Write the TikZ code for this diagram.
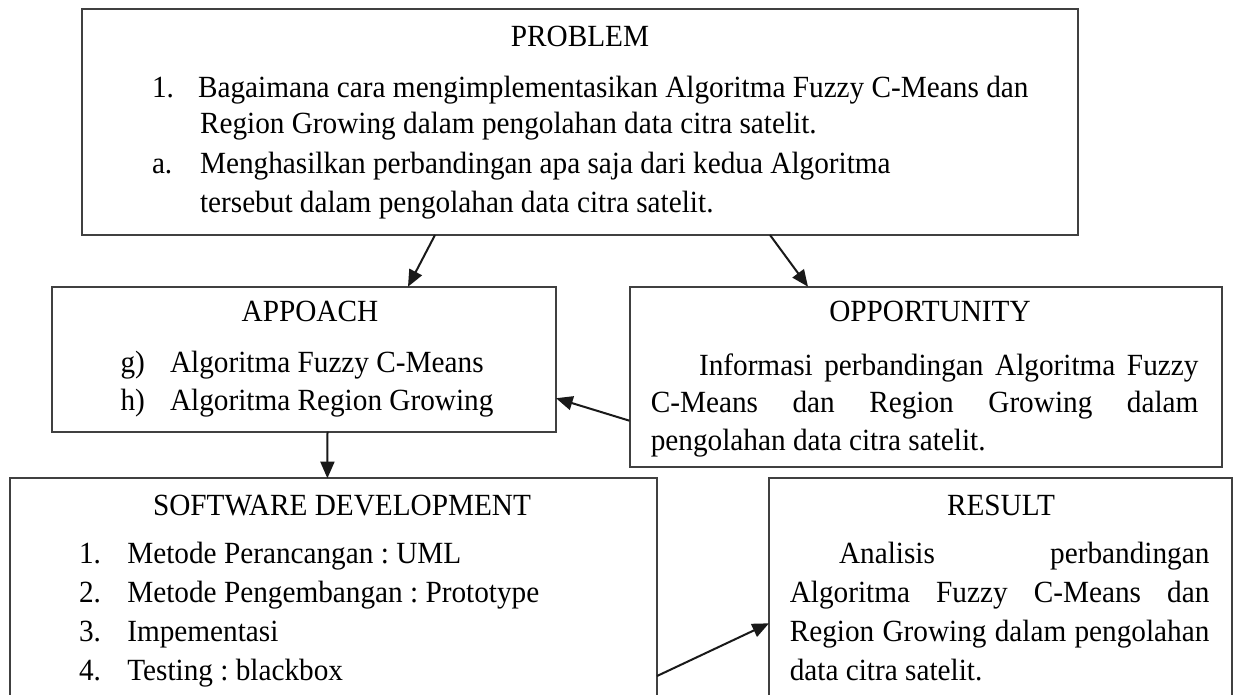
\documentclass[tikz,border=0pt]{standalone}
\usepackage{fontspec}
\setmainfont{Liberation Serif}[FakeStretch=0.95]
\usetikzlibrary{fit,calc,arrows.meta}
\frenchspacing
\begin{document}
\begin{tikzpicture}[x=0.75pt,y=-0.75pt,
  box/.style={draw=black!75, line width=1.5pt, inner sep=0pt, outer sep=0pt},
  txt/.style={anchor=base west, inner sep=0pt, outer sep=0pt, font=\fontsize{23.1}{27}\selectfont},
  ttl/.style={anchor=base, inner sep=0pt, outer sep=0pt, font=\fontsize{23.1}{27}\selectfont},
  arr/.style={line width=1.5pt, draw=black!90, -{Triangle[length=12.5pt,width=10.5pt]}}]
\useasboundingbox (0,0) rectangle (1239,694);
\clip (0,0) rectangle (1239,694);
\fill[white] (0,0) rectangle (1239,694);

% boxes
\node[box, fit={(82,9) (1078,235)}] (problem) {};
\node[box, fit={(51.5,286.7) (556,431.7)}] (approach) {};
\node[box, fit={(629.5,286.7) (1222,467)}] (opportunity) {};
\node[box, fit={(10,478.3) (657,720)}] (softdev) {};
\node[box, fit={(769,478.3) (1232,720)}] (result) {};

% PROBLEM
\node[ttl] (pT) at (580,46.7) {PROBLEM};
\node[txt] (p1n) at (152,97) {1.};
\node[txt] (p1a) at (198,97) {Bagaimana cara mengimplementasikan Algoritma Fuzzy C-Means dan};
\node[txt] (p1b) at (200,133) {Region Growing dalam pengolahan data citra satelit.};
\node[txt] (p2n) at (152,173) {a.};
\node[txt] (p2a) at (200,173) {Menghasilkan perbandingan apa saja dari kedua Algoritma};
\node[txt] (p2b) at (200,212) {tersebut dalam pengolahan data citra satelit.};

% APPOACH
\node[ttl] (aT) at (310,321.7) {APPOACH};
\node[txt] (a1n) at (120.6,372.7) {g)};
\node[txt] (a1) at (170,372.7) {Algoritma Fuzzy C-Means};
\node[txt] (a2n) at (120.6,410) {h)};
\node[txt] (a2) at (170,410) {Algoritma Region Growing};

% OPPORTUNITY
\node[ttl] (oT) at (930,321.7) {OPPORTUNITY};
\node[txt] (o1) at (699,375) {\makebox[374.6pt][s]{Informasi perbandingan Algoritma Fuzzy}};
\node[txt] (o2) at (650.8,412.3) {\makebox[410.7pt][s]{C-Means dan Region Growing dalam}};
\node[txt] (o3) at (650.8,450) {pengolahan data citra satelit.};

% SOFTWARE DEVELOPMENT
\node[ttl] (sT) at (342,515) {SOFTWARE DEVELOPMENT};
\node[txt] (s1n) at (79,563.3) {1.};
\node[txt] (s1) at (127.3,563.3) {Metode Perancangan : UML};
\node[txt] (s2n) at (79,602.3) {2.};
\node[txt] (s2) at (127.3,602.3) {Metode Pengembangan : Prototype};
\node[txt] (s3n) at (79,641) {3.};
\node[txt] (s3) at (127.3,641) {Impementasi};
\node[txt] (s4n) at (79,680) {4.};
\node[txt] (s4) at (127.3,680) {Testing : blackbox};

% RESULT
\node[ttl] (rT) at (1001,515.5) {RESULT};
\node[txt] (r1) at (839,563.3) {\makebox[277.8pt][s]{Analisis perbandingan}};
\node[txt] (r2) at (789.8,602.3) {\makebox[314.7pt][s]{Algoritma Fuzzy C-Means dan}};
\node[txt] (r3) at (789.8,641) {\makebox[314.7pt][s]{Region Growing dalam pengolahan}};
\node[txt] (r4) at (789.8,680) {data citra satelit.};

% connectors
\draw[arr] ($(problem.south west)+(353,0)$) -- ($(approach.north west)+(356.5,0)$);
\draw[arr] ($(problem.south west)+(688,0)$) -- ($(opportunity.north west)+(178.5,0)$);
\draw[arr] ($(opportunity.north west)+(0,134)$) -- ($(approach.north east)+(0,111.5)$);
\draw[arr] ($(approach.south west)+(276,0)$) -- ($(softdev.north west)+(317.4,0)$);
\draw[arr] ($(softdev.north east)+(0,197.7)$) -- ($(result.north west)+(0,145)$);
\end{tikzpicture}
\end{document}
